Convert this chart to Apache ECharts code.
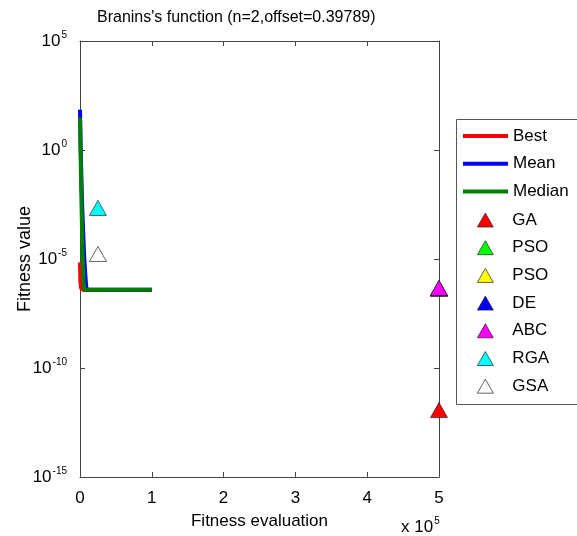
<!DOCTYPE html>
<html>
<head>
<meta charset="utf-8">
<script src="https://cdn.jsdelivr.net/npm/echarts@6/dist/echarts.min.js"></script>
<style>html,body{margin:0;padding:0;background:#fff}#c{width:577px;height:536px}</style>
</head>
<body>
<div id="c"></div>
<script>
// ---- data ----
const titleText = "Branins's function (n=2,offset=0.39789)";
const xTicks = [0, 1, 2, 3, 4, 5]; // x 10^5
const yExponents = [5, 0, -5, -10, -15];

const bestX = [0, 500, 1500, 3000, 5000, 100000];
const bestY = [7e-6, 1e-6, 4.5e-7, 3.9e-7, 3.8e-7, 3.8e-7];

const meanX = [0, 1000, 2000, 3000, 4000, 5000, 6000, 7000, 8000, 9000, 100000];
const meanY = [70, 1, 0.05, 3e-3, 4e-4, 6e-5, 1e-5, 3e-6, 1e-6, 4e-7, 3.9e-7];

const medianX = [0, 1000, 2000, 3000, 4000, 5000, 6000, 100000];
const medianY = [30, 0.3, 5e-3, 1e-4, 5e-6, 8e-7, 3.9e-7, 3.9e-7];

const algNames  = ['GA', 'PSO', 'PSO', 'DE', 'ABC', 'RGA', 'GSA'];
const algEvals  = [500000, 500000, 500000, 500000, 500000, 25000, 25000];
const algValues = [1.17e-12, 4.2e-7, 4.6e-7, 4.6e-7, 4.7e-7, 2.2e-3, 1.7e-5];
const algColors = ['#ff0000', '#00ff00', '#ffff00', '#0000ff', '#ff00ff', '#00ffff', '#ffffff'];

// ---- chart ----
const chart = echarts.init(document.getElementById('c'));
const FONT = 'Liberation Sans, Arial, sans-serif';
const zip = (xs, ys) => xs.map((x, i) => [x, ys[i]]);

const lineSeries = [
  {name: 'Best', data: zip(bestX, bestY), color: '#ff0000'},
  {name: 'Mean', data: zip(meanX, meanY), color: '#0000ff'},
  {name: 'Median', data: zip(medianX, medianY), color: '#008000'}
].map(s => ({
  type: 'line', name: s.name, data: s.data, showSymbol: false, symbol: 'none',
  lineStyle: {width: 4, color: s.color}, itemStyle: {color: s.color},
  animation: false, z: 2
}));

// Unique series names for the two PSO entries
const scatterSeries = algNames.map((n, i) => ({
  type: 'scatter', name: n + (i === 2 ? ' ' : ''),
  data: [[algEvals[i], algValues[i]]],
  symbol: 'triangle', symbolSize: [17, 15],
  itemStyle: {color: algColors[i], borderColor: '#222', borderWidth: 0.7, opacity: 1},
  animation: false, z: 3
}));

const axisLineStyle = {color: '#444', width: 1};

const option = {
  backgroundColor: '#fff',
  animation: false,
  title: {
    text: titleText, left: 97, top: 10, padding: 0,
    textStyle: {fontFamily: FONT, fontSize: 16, fontWeight: 'normal', color: '#000'}
  },
  grid: {left: 80, top: 41, right: 138, bottom: 59, outerBoundsMode: 'none', containLabel: false},
  legend: [
    {
      orient: 'vertical', left: 463, top: 127, padding: 0,
      data: lineSeries.map(s => ({name: s.name, icon: 'rect'})),
      itemWidth: 45, itemHeight: 4, itemGap: 9.7,
      textStyle: {fontFamily: FONT, fontSize: 17, color: '#000', lineHeight: 18}
    },
    {
      orient: 'vertical', left: 477, top: 211, padding: 0,
      data: scatterSeries.map(s => ({name: s.name, icon: 'triangle'})),
      itemWidth: 16, itemHeight: 14, itemGap: 9.7,
      itemStyle: {borderWidth: 0.7, borderColor: '#222'},
      textStyle: {fontFamily: FONT, fontSize: 17, color: '#000', lineHeight: 18, padding: [0, 0, 0, 14]}
    }
  ],
  xAxis: [
    {
      type: 'value', min: 0, max: 500000, interval: 100000,
      name: 'Fitness evaluation', nameLocation: 'middle', nameGap: 36, nameMoveOverlap: false,
      nameTextStyle: {fontFamily: FONT, fontSize: 17, color: '#000'},
      axisLine: {show: true, onZero: false, lineStyle: axisLineStyle},
      axisTick: {show: true, inside: true, length: 5, lineStyle: axisLineStyle},
      axisLabel: {margin: 13, fontFamily: FONT, fontSize: 17, color: '#000',
        formatter: v => String(xTicks[Math.round(v / 100000)])},
      splitLine: {show: false}
    },
    {
      type: 'value', position: 'top', min: 0, max: 500000, interval: 100000,
      axisLine: {show: true, onZero: false, lineStyle: axisLineStyle},
      axisTick: {show: true, inside: true, length: 5, lineStyle: axisLineStyle},
      axisLabel: {show: false}, splitLine: {show: false}
    }
  ],
  yAxis: [
    {
      type: 'log', logBase: 10, min: 1e-15, max: 1e5, interval: 5,
      name: 'Fitness value', nameLocation: 'middle', nameGap: 46, nameRotate: 90, nameMoveOverlap: false,
      nameTextStyle: {fontFamily: FONT, fontSize: 18, color: '#000'},
      axisLine: {show: true, onZero: false, lineStyle: axisLineStyle},
      axisTick: {show: true, inside: true, length: 5, lineStyle: axisLineStyle},
      minorTick: {show: false},
      axisLabel: {
        margin: 13, fontFamily: FONT, color: '#000',
        formatter: v => {
          const e = Math.round(Math.log10(v));
          return '{b|10}{s|' + e + '}';
        },
        rich: {
          b: {fontFamily: FONT, fontSize: 17, color: '#000'},
          s: {fontFamily: FONT, fontSize: 10, color: '#000', padding: [0, 0, 12, 1]}
        }
      },
      splitLine: {show: false}
    },
    {
      type: 'log', logBase: 10, min: 1e-15, max: 1e5, interval: 5, position: 'right',
      axisLine: {show: true, onZero: false, lineStyle: axisLineStyle},
      axisTick: {show: true, inside: true, length: 5, lineStyle: axisLineStyle},
      axisLabel: {show: false}, splitLine: {show: false}
    }
  ],
  graphic: [
    {type: 'rect', left: 454, top: 117, shape: {width: 122, height: 285},
      style: {fill: 'none', stroke: '#555', lineWidth: 1}, silent: true, z: -1},
    {type: 'text', left: 401, top: 516,
      style: {text: '{b|x 10}{s|5}', rich: {
        b: {fontFamily: FONT, fontSize: 17, fill: '#000'},
        s: {fontFamily: FONT, fontSize: 10, fill: '#000', padding: [0, 0, 12, 1]}
      }}}
  ],
  series: lineSeries.concat(scatterSeries)
};
chart.setOption(option);
</script>
</body>
</html>
